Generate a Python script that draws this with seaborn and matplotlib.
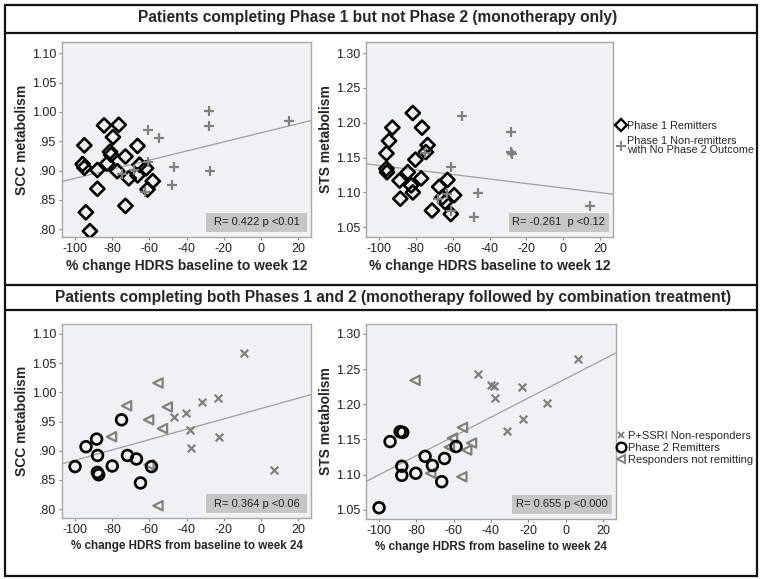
import numpy as np
import pandas as pd
import matplotlib
matplotlib.use("Agg")
import matplotlib.pyplot as plt
import seaborn as sns
from matplotlib.lines import Line2D
from matplotlib.patches import Rectangle
from matplotlib.ticker import FuncFormatter, MultipleLocator

# ---------------- data ----------------
# Top-left: SCC metabolism vs % change HDRS (week 12)
tl_rem_x = [-84.4, -76.5, -79.6, -95.0, -81.2, -80.6, -72.9, -66.4, -95.9, -95.0, -88.0, -82.7,
            -77.3, -65.3, -71.1, -66.4, -61.8, -58.2, -61.0, -88.0, -72.9, -94.2, -92.0]
tl_rem_y = [0.977, 0.978, 0.957, 0.943, 0.932, 0.927, 0.924, 0.942, 0.911, 0.905, 0.901, 0.912,
            0.899, 0.910, 0.887, 0.892, 0.904, 0.882, 0.868, 0.869, 0.840, 0.829, 0.797]
tl_non_x = [-60.5, -54.7, -61.0, -74.7, -68.5, -62.3, -28.0, -28.0, -27.5, -47.0, -48.0, 15.0]
tl_non_y = [0.969, 0.956, 0.915, 0.895, 0.901, 0.863, 1.002, 0.976, 0.900, 0.907, 0.875, 0.985]

# Top-right: STS metabolism vs % change HDRS (week 12)
tr_rem_x = [-81.6, -92.7, -76.6, -94.5, -95.9, -73.6, -74.5, -80.2, -95.9, -95.6, -84.3, -88.8,
            -77.1, -82.5, -81.6, -88.4, -62.8, -67.3, -59.2, -65.5, -64.1, -71.2, -61.0]
tr_rem_y = [1.214, 1.193, 1.193, 1.174, 1.156, 1.168, 1.158, 1.147, 1.134, 1.129, 1.129, 1.117,
            1.120, 1.110, 1.100, 1.091, 1.118, 1.108, 1.096, 1.093, 1.086, 1.074, 1.069]
tr_non_x = [-54.8, -28.6, -28.6, -27.6, -61.0, -46.5, -48.2, 14.5, -74.8, -68.2, -63.2, -61.0]
tr_non_y = [1.209, 1.187, 1.158, 1.155, 1.137, 1.099, 1.065, 1.081, 1.156, 1.091, 1.098, 1.074]

# Bottom-left: SCC metabolism vs % change HDRS (week 24)
bl_rem_x = [-100.0, -94.1, -88.4, -87.9, -88.0, -87.3, -80.0, -75.0, -71.8, -67.0, -58.9, -64.8]
bl_rem_y = [0.873, 0.907, 0.920, 0.892, 0.863, 0.859, 0.874, 0.953, 0.892, 0.886, 0.873, 0.845]
bl_resp_x = [-55.4, -72.3, -50.4, -80.4, -60.4, -53.0, -60.2, -55.4]
bl_resp_y = [1.016, 0.977, 0.975, 0.924, 0.953, 0.938, 0.876, 0.806]
bl_nonr_x = [-9.4, -31.8, -23.2, -40.2, -46.8, -38.4, -37.8, -22.7, 6.8]
bl_nonr_y = [1.068, 0.983, 0.991, 0.964, 0.958, 0.935, 0.904, 0.924, 0.867]

# Bottom-right: STS metabolism vs % change HDRS (week 24)
br_rem_x = [-100.0, -94.1, -88.7, -87.3, -87.8, -87.8, -80.3, -75.3, -71.4, -66.4, -64.9, -58.7]
br_rem_y = [1.053, 1.147, 1.161, 1.160, 1.112, 1.099, 1.102, 1.126, 1.113, 1.090, 1.123, 1.140]
br_resp_x = [-80.7, -55.3, -60.6, -62.3, -50.4, -53.0, -72.3, -55.6]
br_resp_y = [1.234, 1.167, 1.152, 1.139, 1.145, 1.135, 1.102, 1.097]
br_nonr_x = [-46.7, -40.1, -38.3, -37.7, -23.4, -22.9, -31.5, -9.7, 6.4]
br_nonr_y = [1.243, 1.228, 1.226, 1.209, 1.224, 1.179, 1.162, 1.202, 1.264]

stats_text = ["R= 0.422 p <0.01", "R= -0.261  p <0.12", "R= 0.364 p <0.06", "R= 0.655 p <0.000"]
x_labels = ["% change HDRS baseline to week 12", "% change HDRS baseline to week 12",
            "% change HDRS from baseline to week 24", "% change HDRS from baseline to week 24"]
y_labels = ["SCC metabolism", "STS metabolism", "SCC metabolism", "STS metabolism"]
titles = ["Patients completing Phase 1 but not Phase 2 (monotherapy only)",
          "Patients completing both Phases 1 and 2 (monotherapy followed by combination treatment)"]
legend_top = ["Phase 1 Remitters", "Phase 1 Non-remitters\nwith No Phase 2 Outcome"]
legend_bot = ["P+SSRI Non-responders", "Phase 2 Remitters", "Responders not remitting"]

# ---------------- styling ----------------
sns.set_theme(style="white")
plt.rcParams["font.family"] = ["Liberation Sans", "DejaVu Sans"]
plt.rcParams["axes.unicode_minus"] = False

GRAY = "#808080"
BG = "#f0f1f3"
fig = plt.figure(figsize=(7.62, 5.79), dpi=100)

positions = [
    [0.0814, 0.5907, 0.327, 0.3368],
    [0.4803, 0.5907, 0.3242, 0.3368],
    [0.0814, 0.1054, 0.327, 0.335],
    [0.4803, 0.1036, 0.328, 0.3368],
]
ylims = [(0.787, 1.119), (1.036, 1.316), (0.785, 1.117), (1.037, 1.314)]
xlim = (-107, 27)

fmt = FuncFormatter(lambda v, _: (f"{v:.2f}"[1:] if v < 1 else f"{v:.2f}"))

axes = []
for i, pos in enumerate(positions):
    ax = fig.add_axes(pos)
    ax.set_facecolor(BG)
    ax.set_xlim(*xlim)
    ax.set_ylim(*ylims[i])
    ax.xaxis.set_major_locator(MultipleLocator(20))
    ax.yaxis.set_major_locator(MultipleLocator(0.05))
    ax.yaxis.set_major_formatter(fmt)
    for s in ax.spines.values():
        s.set_color("#a8a8a8")
        s.set_linewidth(1.0)
    ax.tick_params(axis="both", which="major", direction="out", length=2.5, width=0.8,
                   color="#888888", labelsize=9, labelcolor="#222222", pad=1.5,
                   bottom=True, left=True)
    xl_size = 10 if i < 2 else 8.4
    ax.set_xlabel(x_labels[i], fontsize=xl_size, fontweight="bold", labelpad=3)
    ax.set_ylabel(y_labels[i], fontsize=10, fontweight="bold", labelpad=2)
    axes.append(ax)

def fit_line(ax, xs, ys):
    sns.regplot(x=np.array(xs), y=np.array(ys), ax=ax, scatter=False, ci=None,
                truncate=False, line_kws=dict(color="#a0a0a0", lw=0.9, zorder=1))

def open_markers(ax, xs, ys, marker, s, color, lw, filled=True):
    if filled:
        sns.scatterplot(x=xs, y=ys, ax=ax, marker=marker, s=s, facecolor="none",
                        edgecolor=color, linewidth=lw, zorder=3)
    else:
        sns.scatterplot(x=xs, y=ys, ax=ax, marker=marker, s=s, color=color,
                        linewidth=lw, zorder=3)

# top-left
ax = axes[0]
fit_line(ax, tl_rem_x + tl_non_x, tl_rem_y + tl_non_y)
open_markers(ax, tl_rem_x, tl_rem_y, "D", 52, "black", 1.9)
open_markers(ax, tl_non_x, tl_non_y, "+", 60, GRAY, 1.6, filled=False)
# top-right
ax = axes[1]
fit_line(ax, tr_rem_x + tr_non_x, tr_rem_y + tr_non_y)
open_markers(ax, tr_rem_x, tr_rem_y, "D", 52, "black", 1.9)
open_markers(ax, tr_non_x, tr_non_y, "+", 60, GRAY, 1.6, filled=False)
# bottom-left
ax = axes[2]
fit_line(ax, bl_rem_x + bl_resp_x + bl_nonr_x, bl_rem_y + bl_resp_y + bl_nonr_y)
open_markers(ax, bl_resp_x, bl_resp_y, "<", 45, GRAY, 1.6)
open_markers(ax, bl_nonr_x, bl_nonr_y, "x", 30, GRAY, 1.6, filled=False)
open_markers(ax, bl_rem_x, bl_rem_y, "o", 60, "black", 1.9)
# bottom-right
ax = axes[3]
fit_line(ax, br_rem_x + br_resp_x + br_nonr_x, br_rem_y + br_resp_y + br_nonr_y)
open_markers(ax, br_resp_x, br_resp_y, "<", 45, GRAY, 1.6)
open_markers(ax, br_nonr_x, br_nonr_y, "x", 30, GRAY, 1.6, filled=False)
open_markers(ax, br_rem_x, br_rem_y, "o", 60, "black", 1.9)

for i, ax in enumerate(axes):
    ax.set_xlim(*xlim)
    ax.set_ylim(*ylims[i])
    x0 = 0.578 if i != 3 else 0.585
    ax.add_patch(Rectangle((x0, 0.026), 0.984 - x0, 0.097, transform=ax.transAxes,
                           facecolor="#c6c6c6", edgecolor="none", zorder=4))
    ax.text((x0 + 0.984) / 2, 0.0745, stats_text[i], transform=ax.transAxes,
            ha="center", va="center", fontsize=8, color="#222222", zorder=5)

# legends
h_top = [Line2D([], [], ls="none", marker="D", ms=6.5, mfc="none", mec="black", mew=1.7),
         Line2D([], [], ls="none", marker="+", ms=7, color=GRAY, mew=1.4)]
leg1 = fig.legend(h_top, legend_top, loc="upper left", bbox_to_anchor=(0.809, 0.791),
                  frameon=False, fontsize=7.8, handlelength=0.8, handletextpad=0.2,
                  labelspacing=0.45, borderpad=0, borderaxespad=0)
for t in leg1.get_texts():
    t.set_linespacing(0.95)
h_bot = [Line2D([], [], ls="none", marker="x", ms=5, color=GRAY, mew=1.4),
         Line2D([], [], ls="none", marker="o", ms=7, mfc="none", mec="black", mew=1.7),
         Line2D([], [], ls="none", marker="<", ms=6, mfc="none", mec=GRAY, mew=1.4)]
fig.legend(h_bot, legend_bot, loc="upper left", bbox_to_anchor=(0.809, 0.256),
           frameon=False, fontsize=8, handlelength=0.8, handletextpad=0.2,
           labelspacing=0.2, borderpad=0, borderaxespad=0)

# frame and title bands
lw = 1.6
fig.add_artist(Rectangle((0.0066, 0.0052), 0.9868, 0.9862, transform=fig.transFigure,
                         fill=False, edgecolor="#111111", linewidth=lw))
for yy in [0.943, 0.5078, 0.4646]:
    fig.add_artist(Line2D([0.0066, 0.9934], [yy, yy], transform=fig.transFigure,
                          color="#111111", linewidth=lw))
fig.text(0.4954, 0.9706, titles[0], ha="center", va="center", fontsize=11.2, fontweight="bold")
fig.text(0.516, 0.4862, titles[1], ha="center", va="center", fontsize=11.2, fontweight="bold")

fig.savefig("out.png", dpi=100, facecolor="white")
